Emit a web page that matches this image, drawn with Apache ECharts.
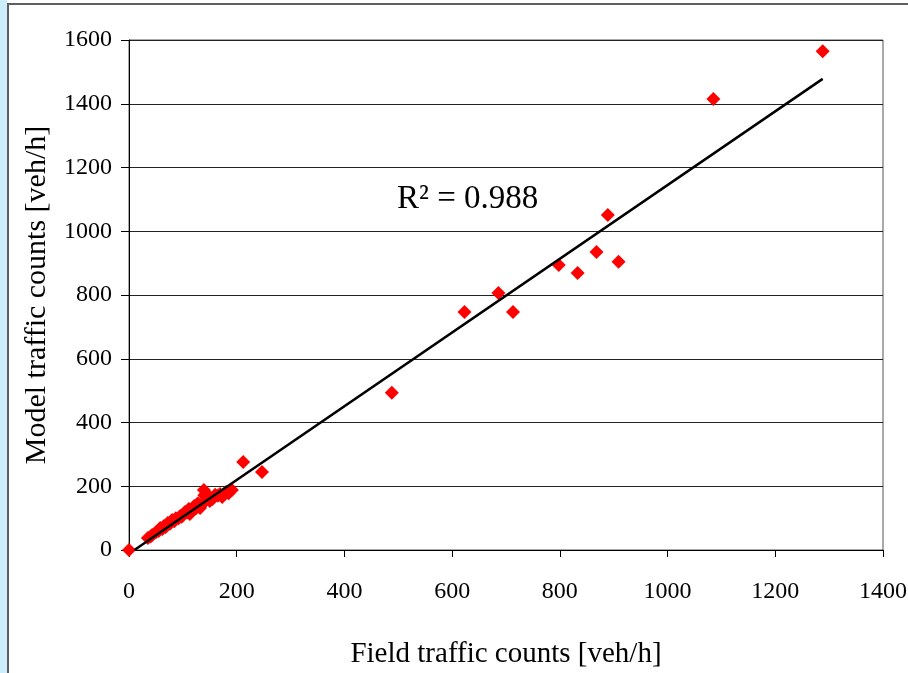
<!DOCTYPE html>
<html>
<head>
<meta charset="utf-8">
<script src="https://cdn.jsdelivr.net/npm/echarts@6/dist/echarts.min.js"></script>
<style>
  html, body { margin: 0; padding: 0; background: #fff; }
  #chart { width: 908px; height: 673px; }
</style>
</head>
<body>
<div id="chart"></div>
<script>
// Field vs model counts
const fieldCounts = [0, 35, 40, 43, 50, 55, 58, 62, 65, 68, 72, 76, 80, 84, 87, 92, 95, 98, 104, 108, 111, 113, 118, 121, 125, 128, 132, 135, 139, 140, 143, 150, 150, 155, 160, 165, 169, 173, 180, 185, 191, 212, 247, 488, 623, 686, 713, 798, 833, 868, 889, 909, 1085, 1288];
const modelCounts = [0, 38, 42, 47, 56, 60, 69, 66, 75, 72, 85, 82, 94, 90, 100, 100, 107, 104, 119, 118, 129, 113, 126, 138, 132, 147, 132, 142, 188, 172, 157, 166, 154, 160, 173, 170, 176, 166, 182, 178, 188, 276, 245, 493, 747, 806, 747, 894, 869, 935, 1051, 904, 1415, 1565];

// linear trend line end points
const trendX = [10, 1288];
const trendY = [0, 1478];

const xTicks = [0, 200, 400, 600, 800, 1000, 1200, 1400];
const yTicks = [0, 200, 400, 600, 800, 1000, 1200, 1400, 1600];

const serif = '"Liberation Serif", "DejaVu Serif", serif';

const chart = echarts.init(document.getElementById('chart'));

const option = {
  animation: false,
  backgroundColor: '#fff',
  grid: {
    left: 129, right: 25, top: 40, bottom: 123,
    outerBoundsMode: 'none', containLabel: false,
    show: true, borderColor: '#555', borderWidth: 1
  },
  xAxis: {
    type: 'value',
    min: xTicks[0], max: xTicks[xTicks.length - 1], interval: 200,
    name: 'Field traffic counts [veh/h]',
    nameLocation: 'middle', nameGap: 90,
    nameTextStyle: { fontFamily: serif, fontSize: 29, color: '#000' },
    axisLine: { show: true, onZero: false, lineStyle: { color: '#000', width: 1 } },
    axisTick: { show: true, length: 7, lineStyle: { color: '#000' } },
    axisLabel: { fontFamily: serif, fontSize: 24, color: '#000', margin: 30, formatter: v => String(v) },
    splitLine: { show: false }
  },
  yAxis: {
    type: 'value',
    min: yTicks[0], max: yTicks[yTicks.length - 1], interval: 200,
    name: 'Model traffic counts [veh/h]',
    nameLocation: 'middle', nameGap: 77,
    nameTextStyle: { fontFamily: serif, fontSize: 30, color: '#000' },
    axisLine: { show: true, lineStyle: { color: '#000', width: 1 } },
    axisTick: { show: true, length: 8, lineStyle: { color: '#000' } },
    axisLabel: { fontFamily: serif, fontSize: 24, color: '#000', margin: 17, formatter: v => String(v) },
    splitLine: { show: true, lineStyle: { color: '#222', width: 1 } }
  },
  graphic: [
    { type: 'rect', shape: { x: 0, y: 0, width: 7, height: 673 }, style: { fill: '#cdeefc' }, z: 100 },
    { type: 'rect', shape: { x: 7, y: 3, width: 2, height: 670 }, style: { fill: '#5f5f5f' }, z: 100 },
    { type: 'rect', shape: { x: 7, y: 3, width: 901, height: 2 }, style: { fill: '#5f5f5f' }, z: 100 },
    {
      type: 'text', left: 397, top: 183, z: 100,
      style: { text: 'R² = 0.988', font: '33px ' + serif, fill: '#000' }
    }
  ],
  series: [
    {
      name: 'Counts',
      type: 'scatter',
      symbol: 'diamond',
      symbolSize: 14,
      itemStyle: { color: '#ff0000', opacity: 1 },
      data: fieldCounts.map((x, i) => [x, modelCounts[i]]),
      z: 3
    },
    {
      name: 'Trend',
      type: 'line',
      symbol: 'none',
      lineStyle: { color: '#000', width: 2.5 },
      data: trendX.map((x, i) => [x, trendY[i]]),
      z: 4
    }
  ]
};

chart.setOption(option);
</script>
</body>
</html>
